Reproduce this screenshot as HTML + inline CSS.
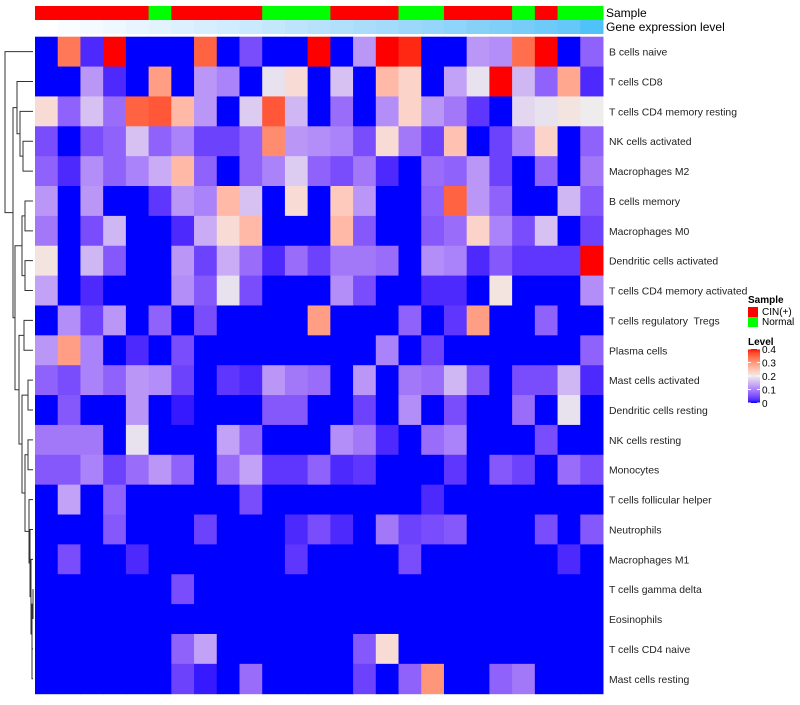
<!DOCTYPE html>
<html><head><meta charset="utf-8">
<style>
body{margin:0;background:#fff;font-family:"Liberation Sans",sans-serif;}
svg text{font-family:"Liberation Sans",sans-serif;white-space:pre;}
</style></head>
<body>
<svg id="chart" width="800" height="700" xmlns="http://www.w3.org/2000/svg"></svg>
<script>
const rowLabels=["B cells naive","T cells CD8","T cells CD4 memory resting","NK cells activated","Macrophages M2","B cells memory","Macrophages M0","Dendritic cells activated","T cells CD4 memory activated","T cells regulatory  Tregs","Plasma cells","Mast cells activated","Dendritic cells resting","NK cells resting","Monocytes","T cells follicular helper","Neutrophils","Macrophages M1","T cells gamma delta","Eosinophils","T cells CD4 naive","Mast cells resting"];
const sampleGroups=["CIN","CIN","CIN","CIN","CIN","Normal","CIN","CIN","CIN","CIN","Normal","Normal","Normal","CIN","CIN","CIN","Normal","Normal","CIN","CIN","CIN","Normal","CIN","Normal","Normal"];
const geneLevel=[0,0.04,0.08,0.12,0.16,0.2,0.24,0.28,0.32,0.36,0.4,0.44,0.48,0.52,0.56,0.6,0.64,0.68,0.72,0.76,0.8,0.84,0.88,0.92,1];
const values=[
[0,0.33,0.02,0.4,0,0,0,0.35,0,0.05,0,0,0.4,0,0.12,0.4,0.39,0,0,0.12,0.11,0.34,0.4,0,0.07],
[0,0,0.12,0.02,0,0.29,0,0.12,0.10,0,0.19,0.22,0,0.16,0,0.26,0.23,0,0.13,0.19,0.4,0.15,0.07,0.28,0.02],
[0.22,0.07,0.16,0.08,0.35,0.36,0.26,0.12,0,0.17,0.36,0.15,0,0.08,0,0.11,0.23,0.12,0.09,0.03,0,0.18,0.19,0.21,0.2],
[0.05,0,0.05,0.07,0.16,0.07,0.10,0.04,0.04,0.07,0.31,0.12,0.11,0.10,0.05,0.22,0.09,0.04,0.25,0,0.04,0.10,0.23,0,0.07],
[0.07,0.02,0.11,0.07,0.10,0.14,0.26,0.07,0,0.07,0.10,0.17,0.07,0.05,0.09,0.02,0,0.08,0.07,0.12,0.04,0,0.07,0,0.09],
[0.12,0,0.12,0,0,0.03,0.12,0.10,0.26,0.16,0,0.22,0,0.24,0.12,0,0,0.07,0.35,0.12,0.07,0,0,0.15,0.06],
[0.09,0,0.05,0.15,0,0,0.02,0.14,0.22,0.26,0,0,0,0.26,0.06,0,0,0.06,0.08,0.23,0.10,0.05,0.16,0,0.04],
[0.21,0,0.15,0.06,0,0,0.12,0.04,0.14,0.08,0.02,0.08,0.04,0.09,0.09,0.08,0,0.11,0.10,0.02,0.06,0.03,0.03,0.03,0.4],
[0.13,0,0.02,0,0,0,0.11,0.06,0.19,0.05,0,0,0,0.11,0.05,0,0,0.02,0.02,0,0.21,0,0,0,0.11],
[0,0.11,0.04,0.12,0,0.07,0,0.05,0,0,0,0,0.29,0,0,0,0.07,0,0.03,0.29,0,0,0.07,0,0],
[0.12,0.29,0.10,0,0.02,0,0.05,0,0,0,0,0,0,0,0,0.10,0,0.04,0,0,0,0,0,0,0.07],
[0.07,0.05,0.10,0.07,0.12,0.11,0.04,0,0.03,0.02,0.12,0.09,0.08,0,0.12,0,0.09,0.08,0.15,0.06,0,0.05,0.05,0.15,0.02],
[0,0.06,0,0,0.12,0,0.01,0,0,0,0.06,0.06,0,0,0.04,0,0.11,0,0.05,0,0,0.08,0,0.19,0],
[0.09,0.09,0.09,0,0.19,0,0,0,0.13,0.07,0,0,0,0.11,0.09,0.02,0,0.08,0.10,0,0,0,0.05,0,0],
[0.06,0.06,0.10,0.04,0.08,0.12,0.07,0,0.08,0.13,0.03,0.03,0.07,0.02,0.03,0,0,0,0.03,0,0.06,0.04,0,0.08,0.05],
[0,0.13,0,0.07,0,0,0,0,0,0.05,0,0,0,0,0,0,0,0.02,0,0,0,0,0,0,0],
[0,0,0,0.06,0,0,0,0.04,0,0,0,0.02,0.05,0.02,0,0.09,0.04,0.05,0.06,0,0,0,0.05,0,0.06],
[0,0.05,0,0,0.02,0,0,0,0,0,0,0.03,0,0,0,0,0.05,0,0,0,0,0,0,0.02,0],
[0,0,0,0,0,0,0.05,0,0,0,0,0,0,0,0,0,0,0,0,0,0,0,0,0,0],
[0,0,0,0,0,0,0,0,0,0,0,0,0,0,0,0,0,0,0,0,0,0,0,0,0],
[0,0,0,0,0,0,0.07,0.13,0,0,0,0,0,0,0.06,0.22,0,0,0,0,0,0,0,0,0],
[0,0,0,0,0,0,0.04,0.01,0,0.08,0,0,0,0,0.04,0,0.07,0.3,0,0,0.07,0.09,0,0,0]
];
const legendTicks=[0.4,0.3,0.2,0.1,0];

const NS="http://www.w3.org/2000/svg";
const svg=document.getElementById('chart');
function mk(tag,attrs,parent){const e=document.createElementNS(NS,tag);for(const k in attrs)e.setAttribute(k,attrs[k]);(parent||svg).appendChild(e);return e;}
function s2l(c){c/=255;return c<=0.04045?c/12.92:Math.pow((c+0.055)/1.055,2.4);}
function l2s(c){c=c<=0.0031308?12.92*c:1.055*Math.pow(c,1/2.4)-0.055;return Math.max(0,Math.min(255,Math.round(c*255)));}
function toLab(rgb){let r=s2l(rgb[0]),g=s2l(rgb[1]),b=s2l(rgb[2]);
let x=(r*0.4124+g*0.3576+b*0.1805)/0.95047,y=r*0.2126+g*0.7152+b*0.0722,z=(r*0.0193+g*0.1192+b*0.9505)/1.08883;
const f=t=>t>0.008856?Math.cbrt(t):7.787*t+16/116;x=f(x);y=f(y);z=f(z);return [116*y-16,500*(x-y),200*(y-z)];}
function fromLab(l){let y=(l[0]+16)/116,x=l[1]/500+y,z=y-l[2]/200;
const fi=t=>t*t*t>0.008856?t*t*t:(t-16/116)/7.787;x=fi(x)*0.95047;y=fi(y);z=fi(z)*1.08883;
const r=x*3.2406+y*-1.5372+z*-0.4986,g=x*-0.9689+y*1.8758+z*0.0415,b=x*0.0557+y*-0.2040+z*1.0570;
return 'rgb('+l2s(r)+','+l2s(g)+','+l2s(b)+')';}
const LB=toLab([0,0,255]),LW=toLab([238,236,236]),LR=toLab([255,0,0]),LC=toLab([79,195,247]),LWh=toLab([255,255,255]);
function mix(a,b,t){return fromLab([a[0]+(b[0]-a[0])*t,a[1]+(b[1]-a[1])*t,a[2]+(b[2]-a[2])*t]);}
function colorOf(v){v=Math.max(0,Math.min(0.4,v));return v<=0.2?mix(LB,LW,v/0.2):mix(LW,LR,(v-0.2)/0.2);}

const X0=35,X1=603,Y0=36.7,Y1=693.7;
const nC=sampleGroups.length,nR=rowLabels.length;
const cw=(X1-X0)/nC,rh=(Y1-Y0)/nR;
const xOf=c=>X0+c*cw, yOf=r=>Y0+r*rh;

const gA=mk('g',{});


sampleGroups.forEach((s,c)=>{
  const r=mk('rect',{x:xOf(c),y:6,width:cw+0.5,height:14,fill:s==="CIN"?"#ff0000":"#00ff00"},gA);
  
  
  const g=mk('rect',{x:xOf(c),y:20,width:cw+0.5,height:14,fill:mix(LWh,LC,geneLevel[c])},gA);
  
  
});
let t=mk('text',{x:606,y:17,'font-size':12,fill:'#000'});t.textContent='Sample';

t=mk('text',{x:606,y:31,'font-size':12,fill:'#000'});t.textContent='Gene expression level';


const gH=mk('g',{});


values.forEach((row,r)=>row.forEach((v,c)=>{
  const cell=mk('rect',{x:xOf(c),y:yOf(r),width:cw+0.5,height:rh+0.5,fill:colorOf(v)},gH);
  
  
}));
rowLabels.forEach((l,r)=>{
  const tx=mk('text',{x:609,y:yOf(r)+rh/2+4,'font-size':10.4,fill:'#222'});
  tx.textContent=l;
  
  
});

const tree={x:5,l:0,r:{x:13,l:{x:17,l:1,r:{x:20,l:2,r:{x:23,l:3,r:4}}},r:{x:15,l:{x:22,l:{x:25,l:5,r:6},r:{x:25,l:7,r:8}},r:{x:19,l:{x:24,l:9,r:10},r:{x:22,l:{x:28,l:11,r:12},r:{x:25,l:{x:28,l:13,r:14},r:{x:29,l:15,r:{x:30,l:16,r:{x:31,l:17,r:{x:32,l:{x:33,l:18,r:19},r:{x:32,l:20,r:21}}}}}}}}}}};
const gD=mk('g',{stroke:'#333','stroke-width':1,fill:'none'});


function draw(n){
  if(typeof n==='number')return {x:33,y:yOf(n)+rh/2};
  const a=draw(n.l),b=draw(n.r);
  mk('path',{d:`M${a.x},${a.y}H${n.x}V${b.y}H${b.x}`},gD);
  return {x:n.x,y:(a.y+b.y)/2};
}
draw(tree);

const gL=mk('g',{});


t=mk('text',{x:748,y:303,'font-size':10,'font-weight':'bold'},gL);t.textContent='Sample';

[['CIN(+)','#ff0000'],['Normal','#00ff00']].forEach((e,i)=>{
  const r=mk('rect',{x:748,y:307+i*10,width:10,height:10,fill:e[1]},gL);
  
  const tx=mk('text',{x:762,y:315+i*10,'font-size':10},gL);tx.textContent=e[0];
  
});
t=mk('text',{x:748,y:345,'font-size':10,'font-weight':'bold'},gL);t.textContent='Level';

const defs=mk('defs',{});
const grad=mk('linearGradient',{id:'lg',x1:0,y1:1,x2:0,y2:0},defs);
for(let i=0;i<=20;i++){const v=0.4*i/20;mk('stop',{offset:(i/20),'stop-color':colorOf(v)},grad);}
const cb=mk('rect',{x:748,y:349,width:12,height:54,fill:'url(#lg)'},gL);

legendTicks.forEach(v=>{
  const y=403-v/0.4*54;
  mk('line',{x1:748,x2:751,y1:y,y2:y,stroke:'#fff'},gL);
  mk('line',{x1:757,x2:760,y1:y,y2:y,stroke:'#fff'},gL);
  const tx=mk('text',{x:762,y:y+4,'font-size':10},gL);tx.textContent=String(v);
  
});
</script>
</body></html>
